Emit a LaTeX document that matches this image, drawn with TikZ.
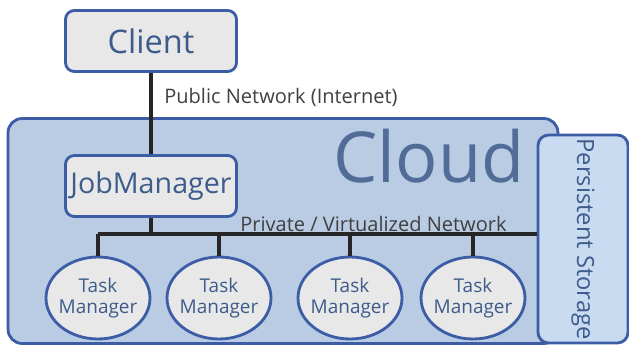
\documentclass[tikz,border=0pt]{standalone}
\usepackage{fontspec}
\setmainfont{Open Sans}
\usepackage{tikz}
\usetikzlibrary{shapes.geometric}

\definecolor{edgeblue}{HTML}{3C5DA6}
\definecolor{txtblue}{HTML}{3D5C8C}
\definecolor{cloudfill}{HTML}{B9CCE4}
\definecolor{storefill}{HTML}{C9DBF1}
\definecolor{boxfill}{HTML}{E8E8E8}

\tikzset{
    boxnode/.style={draw=edgeblue, line width=1.6pt, fill=boxfill, rounded corners=5pt,
        text=txtblue, minimum width=3.42cm, minimum height=1.22cm, inner sep=0pt},
    tasknode/.style={ellipse, draw=edgeblue, line width=1.6pt, fill=boxfill,
        text=txtblue, minimum width=2.08cm, minimum height=1.64cm, inner xsep=-2pt, inner ysep=0pt,
        align=center, font=\fontsize{10.8}{12}\selectfont},
    wire/.style={line width=2.2pt, draw=black!85},
    netlabel/.style={anchor=west, text=black!75, inner sep=0pt, font=\fontsize{11.4}{13}\selectfont}
}

\begin{document}
\begin{tikzpicture}[x=0.02cm, y=-0.02cm]
    \useasboundingbox (0,0) rectangle (629,351);

    \node[draw=edgeblue, line width=1.6pt, fill=cloudfill, rounded corners=8pt,
        minimum width=11cm, minimum height=4.5cm] (cloud) at (283,231) {};
    \node[text=txtblue!90, font=\fontsize{40}{44}\selectfont] (cloudlbl) at (429,156) {Cloud};

    \node[draw=edgeblue, line width=1.6pt, fill=storefill, rounded corners=6pt,
        minimum width=1.8cm, minimum height=4.16cm] (store) at (583,239) {};
    \node[rotate=-90, text=txtblue, font=\fontsize{13.5}{15}\selectfont] (storelbl) at (store) {Persistent Storage};

    \node[boxnode, font=\fontsize{18.5}{20}\selectfont] (client) at (151,41) {Client};
    \node[boxnode, font=\fontsize{16.3}{18}\selectfont] (job) at (151,186) {JobManager};

    \node[tasknode] (t1) at (98,298) {Task\\Manager};
    \node[tasknode] (t2) at (219,298) {Task\\Manager};
    \node[tasknode] (t3) at (350,298) {Task\\Manager};
    \node[tasknode] (t4) at (473,298) {Task\\Manager};

    \coordinate (bus) at (98,234);

    \draw[wire] (client) -- (job);
    \draw[wire] (job) -- (job |- bus);
    \draw[wire] (bus) -- (bus -| store.west);
    \foreach \i in {1,...,4}
        \draw[wire] (t\i) -- (t\i |- bus);

    \node[netlabel] (pubnet) at (164,97) {Public Network (Internet)};
    \node[netlabel] (privnet) at (240,224) {Private / Virtualized Network};
\end{tikzpicture}
\end{document}
